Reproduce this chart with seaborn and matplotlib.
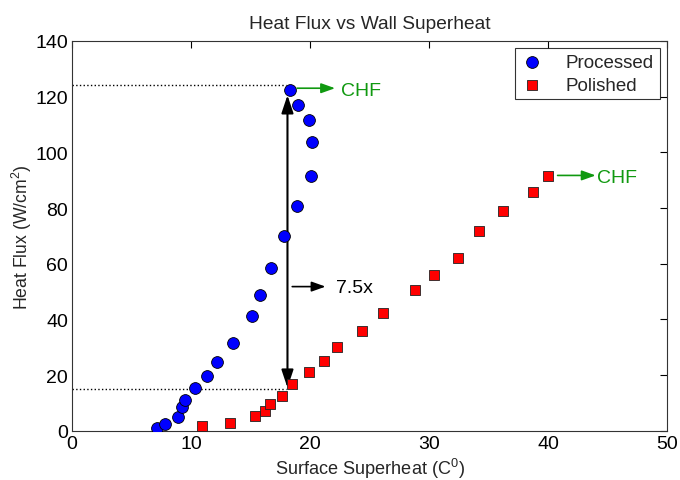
import pandas as pd
import matplotlib
matplotlib.use("Agg")
import matplotlib.pyplot as plt
import seaborn as sns

# Processed surface (blue circles)
processed_x = [7.1, 7.8, 8.9, 9.2, 9.5, 10.35, 11.3, 12.2, 13.5, 15.1, 15.8,
               16.7, 17.8, 18.9, 20.1, 20.2, 19.9, 19.0, 18.3]
processed_y = [1.0, 2.4, 5.0, 8.5, 11.0, 15.3, 19.7, 24.6, 31.7, 41.2, 48.9,
               58.4, 70.0, 80.9, 91.4, 103.6, 111.5, 117.0, 122.3]

# Polished surface (red squares)
polished_x = [10.9, 13.3, 15.35, 16.25, 16.6, 17.6, 18.5, 19.9, 21.2, 22.3,
              24.35, 26.1, 28.8, 30.4, 32.4, 34.2, 36.2, 38.7, 40.0]
polished_y = [1.8, 2.9, 5.4, 7.1, 9.6, 12.5, 16.7, 21.2, 25.1, 30.3, 36.0,
              42.2, 50.7, 56.0, 62.2, 71.8, 78.9, 85.7, 91.6]

chf_levels = [124, 15]
x_ticks = [0, 10, 20, 30, 40, 50]
y_ticks = [0, 20, 40, 60, 80, 100, 120, 140]

sns.set_theme(style="white")
plt.rcParams['font.family'] = ['Liberation Sans', 'DejaVu Sans']
plt.rcParams['mathtext.fontset'] = 'custom'
plt.rcParams['mathtext.rm'] = 'Liberation Sans'

df_proc = pd.DataFrame({'x': processed_x, 'y': processed_y})
df_pol = pd.DataFrame({'x': polished_x, 'y': polished_y})

fig = plt.figure(figsize=(6.8, 4.81), dpi=100)
ax = fig.add_axes([0.106, 0.102, 0.875, 0.811])

# dotted guide lines
for lvl in chf_levels:
    ax.plot([0, 18.0], [lvl, lvl], color='black', linestyle=':', linewidth=1, zorder=1)

# ratio arrow
ax.annotate('', xy=(18.1, 120.5), xytext=(18.1, 15.5),
            arrowprops=dict(arrowstyle='<|-|>,head_length=0.9,head_width=0.3',
                            color='black', lw=1.5, shrinkA=0, shrinkB=0), zorder=2)
ax.annotate('', xy=(21.3, 51.8), xytext=(18.5, 51.8),
            arrowprops=dict(arrowstyle='-|>,head_length=0.7,head_width=0.25',
                            color='black', lw=1.2, shrinkA=0, shrinkB=0))
ax.text(22.2, 51.5, '7.5x', fontsize=14, va='center', ha='left', color='black')

sns.scatterplot(data=df_proc, x='x', y='y', ax=ax, marker='o', s=72,
                color='#0000ff', edgecolor='black', linewidth=0.6,
                label='Processed', zorder=3)
sns.scatterplot(data=df_pol, x='x', y='y', ax=ax, marker='s', s=44,
                color='#ff0000', edgecolor='#222222', linewidth=0.6,
                label='Polished', zorder=3)

# CHF labels
green = '#109910'
ax.annotate('', xy=(22.1, 123.0), xytext=(18.9, 123.0),
            arrowprops=dict(arrowstyle='-|>,head_length=0.7,head_width=0.25',
                            color=green, lw=1.2, shrinkA=0, shrinkB=0))
ax.text(22.6, 122.3, 'CHF', fontsize=14, color=green, va='center', ha='left')
ax.annotate('', xy=(44.0, 91.7), xytext=(40.8, 91.7),
            arrowprops=dict(arrowstyle='-|>,head_length=0.7,head_width=0.25',
                            color=green, lw=1.2, shrinkA=0, shrinkB=0))
ax.text(44.1, 91.0, 'CHF', fontsize=14, color=green, va='center', ha='left')

ax.set_xlim(0, 50)
ax.set_ylim(0, 140)
ax.set_xticks(x_ticks)
ax.set_yticks(y_ticks)
ax.tick_params(direction='in', length=5, width=0.8, top=True, right=True,
               labelsize=14, colors='black', pad=3)
for sp in ax.spines.values():
    sp.set_color('#333333')
    sp.set_linewidth(0.8)

ax.set_title('Heat Flux vs Wall Superheat', fontsize=13.8, pad=9)
ax.set_xlabel('Surface Superheat (C$^0$)', fontsize=13.1, labelpad=3)
ax.set_ylabel('Heat Flux (W/cm$^2$)', fontsize=12.7, labelpad=1)

leg = ax.legend(loc='upper right', fontsize=13.5, frameon=True, fancybox=False,
                borderaxespad=0.4, handletextpad=1.2, labelspacing=0.3,
                borderpad=0.3, handlelength=1.2)
leg.get_frame().set_edgecolor('black')
leg.get_frame().set_linewidth(0.8)

fig.savefig('out.png', dpi=100)
